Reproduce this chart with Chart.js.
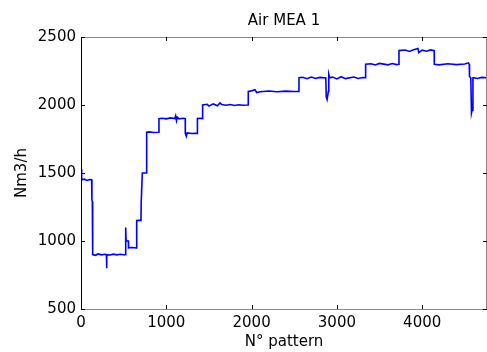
<!DOCTYPE html>
<html>
<head>
<meta charset="utf-8">
<script src="https://cdn.jsdelivr.net/npm/chart.js@4/dist/chart.umd.min.js"></script>
<style>
  html, body { margin: 0; padding: 0; background: #fff; }
  #wrap { width: 487px; height: 352px; }
</style>
</head>
<body>
<div id="wrap"><canvas id="airChart" width="487" height="352"></canvas></div>
<script>
// Air MEA 1 - step profile
const patternNo = [
    0, 5, 10, 40, 70, 100, 125, 128, 133, 137,
    170, 200, 240, 280, 298, 300, 303, 340, 380, 420, 460, 500, 522,
    524, 528, 540, 555, 557, 600, 650, 653, 690, 703, 706, 719, 740, 768,
    770, 800, 850, 912, 914,
    950, 1000, 1050, 1100, 1110, 1120, 1130, 1150, 1200, 1222, 1223, 1235, 1245, 1300, 1340, 1364, 1365, 1400, 1425, 1426,
    1480, 1500, 1550, 1600, 1630, 1650, 1700, 1750, 1800, 1850, 1900, 1960, 1961,
    2000, 2040, 2060, 2100, 2200, 2300, 2400, 2500, 2555, 2556,
    2600, 2650, 2700, 2750, 2800, 2870, 2875, 2885, 2900, 2905, 2915, 2950, 3000, 3050, 3100, 3200, 3250, 3300, 3336, 3337,
    3400, 3450, 3500, 3600, 3650, 3700, 3727, 3728,
    3800, 3850, 3900, 3950, 3960, 4000, 4050, 4100, 4141, 4142,
    4200, 4300, 4400, 4500, 4540, 4552, 4555, 4570, 4578, 4585, 4595, 4607,
    4650, 4700, 4760
];
const airFlow = [
    1530, 1460, 1450, 1455, 1445, 1452, 1450, 1300, 1290, 900,
    895, 905, 898, 902, 900, 800, 900, 897, 903, 898, 902, 899, 900,
    1100, 1010, 1000, 1000, 950, 952, 948, 1150, 1152, 1150, 1290, 1500, 1500, 1500,
    1800, 1802, 1798, 1800, 1900,
    1903, 1898, 1905, 1900, 1920, 1885, 1910, 1898, 1902, 1900, 1790, 1770, 1795, 1790, 1792, 1790, 1900, 1902, 1900, 2000,
    2005, 1992, 2008, 1995, 2015, 2003, 1998, 2004, 1996, 2002, 1998, 2000, 2100,
    2104, 2112, 2092, 2098, 2103, 2097, 2102, 2099, 2100, 2200,
    2204, 2193, 2206, 2195, 2203, 2198, 2060, 2040, 2100, 2225, 2200, 2205, 2192, 2208, 2194, 2206, 2195, 2202, 2200, 2300,
    2303, 2294, 2306, 2295, 2305, 2297, 2300, 2400,
    2404, 2394, 2406, 2415, 2385, 2403, 2395, 2405, 2400, 2300,
    2295, 2303, 2297, 2302, 2310, 2300, 2210, 2200, 1940, 1960, 2200, 2200,
    2195, 2203, 2200
];
const xTicks = [0, 1000, 2000, 3000, 4000];
const yTicks = [500, 1000, 1500, 2000, 2500];

const FONT = 'DejaVu Sans';

// matlab style box with inward tick marks
const boxTicks = {
    id: 'boxTicks',
    afterDraw(chart) {
        const { ctx, chartArea: a, scales } = chart;
        const len = 4;
        ctx.save();
        ctx.lineWidth = 1;
        ctx.strokeStyle = '#888';
        ctx.beginPath();
        ctx.moveTo(a.left, a.top + 0.5); ctx.lineTo(a.right, a.top + 0.5);
        ctx.moveTo(a.left, a.bottom + 0.5); ctx.lineTo(a.right, a.bottom + 0.5);
        ctx.moveTo(a.right - 0.5, a.top); ctx.lineTo(a.right - 0.5, a.bottom);
        ctx.stroke();
        ctx.strokeStyle = '#000';
        ctx.beginPath();
        ctx.moveTo(a.left + 0.5, a.top); ctx.lineTo(a.left + 0.5, a.bottom + 1);
        xTicks.forEach(v => {
            const px = Math.round(scales.x.getPixelForValue(v)) + 0.5;
            ctx.moveTo(px, a.bottom); ctx.lineTo(px, a.bottom - len);
            ctx.moveTo(px, a.top); ctx.lineTo(px, a.top + len);
        });
        yTicks.forEach(v => {
            const py = Math.round(scales.y.getPixelForValue(v)) + 0.5;
            ctx.moveTo(a.left, py); ctx.lineTo(a.left + len, py);
            ctx.moveTo(a.right, py); ctx.lineTo(a.right - len, py);
        });
        ctx.stroke();
        ctx.restore();
    }
};

new Chart(document.getElementById('airChart'), {
    type: 'line',
    data: {
        datasets: [{
            label: 'Air MEA 1',
            data: patternNo.map((x, i) => ({ x: x, y: airFlow[i] })),
            borderColor: '#0000ff',
            borderWidth: 1.6,
            pointRadius: 0,
            fill: false,
            tension: 0
        }]
    },
    options: {
        responsive: false,
        animation: false,
        devicePixelRatio: 1,
        layout: { padding: 0 },
        plugins: {
            legend: { display: false },
            tooltip: { enabled: false },
            title: {
                display: true,
                text: 'Air MEA 1',
                fullSize: false,
                color: '#000',
                font: { family: FONT, size: 15, weight: 'normal' },
                padding: { top: 12, bottom: 7 }
            }
        },
        scales: {
            x: {
                type: 'linear',
                min: 0,
                max: 4760,
                afterBuildTicks: s => { s.ticks = xTicks.map(v => ({ value: v })); },
                afterFit: s => { s.height = 43; },
                grid: { display: false, drawTicks: false },
                border: { display: false },
                ticks: {
                    color: '#000',
                    padding: 5,
                    maxRotation: 0,
                    font: { family: FONT, size: 15 },
                    callback: v => String(v)
                },
                title: {
                    display: true,
                    text: 'N° pattern',
                    color: '#000',
                    font: { family: FONT, size: 15 },
                    padding: { top: 0, bottom: 1 }
                }
            },
            y: {
                min: 500,
                max: 2500,
                afterBuildTicks: s => { s.ticks = yTicks.map(v => ({ value: v })); },
                afterFit: s => { s.width = 81; },
                grid: { display: false, drawTicks: false },
                border: { display: false },
                ticks: {
                    color: '#000',
                    padding: 5,
                    font: { family: FONT, size: 15 },
                    callback: v => String(v)
                },
                title: {
                    display: true,
                    text: 'Nm3/h',
                    color: '#000',
                    font: { family: FONT, size: 15 },
                    padding: { top: 13, bottom: 0 }
                }
            }
        }
    },
    plugins: [boxTicks]
});
</script>
</body>
</html>
